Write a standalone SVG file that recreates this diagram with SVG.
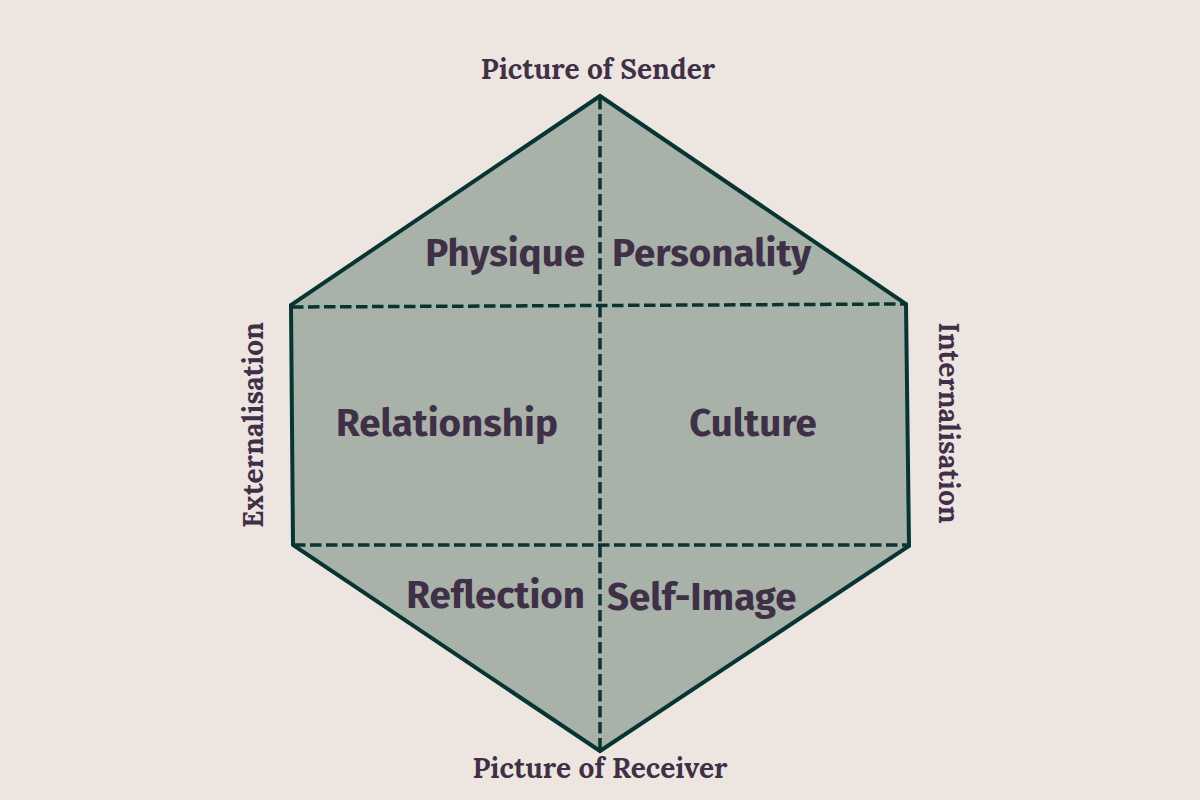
<svg xmlns="http://www.w3.org/2000/svg" width="1200" height="800" viewBox="0 0 1200 800">
<style>
.edge{fill:#a8b2a8;stroke:#073632;stroke-width:4;stroke-linejoin:miter}
.dash{fill:none;stroke:#073632;stroke-width:3.5;stroke-dasharray:11.5 4.5}
.lbl{font-family:"Fira Sans","Noto Sans","Open Sans",sans-serif;font-weight:700;font-size:38.5px;fill:#3f3048}
.ser{font-family:"Lora","Liberation Serif","DejaVu Serif",serif;font-weight:700;font-size:28px;fill:#3f3048}
</style>
<rect width="1200" height="800" fill="#ede5df"/>
<g id="hexagon">
<polygon class="edge" points="600,96 906,304 909,546 600,751 293,545 291,305"/>
</g>
<g id="connectors">
<line class="dash" x1="600" y1="98" x2="600" y2="749"/>
<line class="dash" x1="292" y1="307" x2="905" y2="304"/>
<line class="dash" x1="294" y1="545" x2="908" y2="545"/>
</g>
<g id="physique"><text class="lbl" x="585" y="266" text-anchor="end">Physique</text></g>
<g id="personality"><text class="lbl" x="612" y="266">Personality</text></g>
<g id="relationship"><text class="lbl" x="447" y="436" text-anchor="middle">Relationship</text></g>
<g id="culture"><text class="lbl" x="753" y="436" text-anchor="middle">Culture</text></g>
<g id="reflection"><text class="lbl" x="585" y="608" text-anchor="end">Reflection</text></g>
<g id="selfimage"><text class="lbl" x="607" y="610">Self-Image</text></g>
<g id="sender"><text class="ser" x="598" y="79" text-anchor="middle">Picture of Sender</text></g>
<g id="receiver"><text class="ser" x="600" y="778" text-anchor="middle">Picture of Receiver</text></g>
<g id="externalisation"><text class="ser" transform="translate(263,425) rotate(-90)" text-anchor="middle">Externalisation</text></g>
<g id="internalisation"><text class="ser" transform="translate(939,423) rotate(90)" text-anchor="middle">Internalisation</text></g>
</svg>
